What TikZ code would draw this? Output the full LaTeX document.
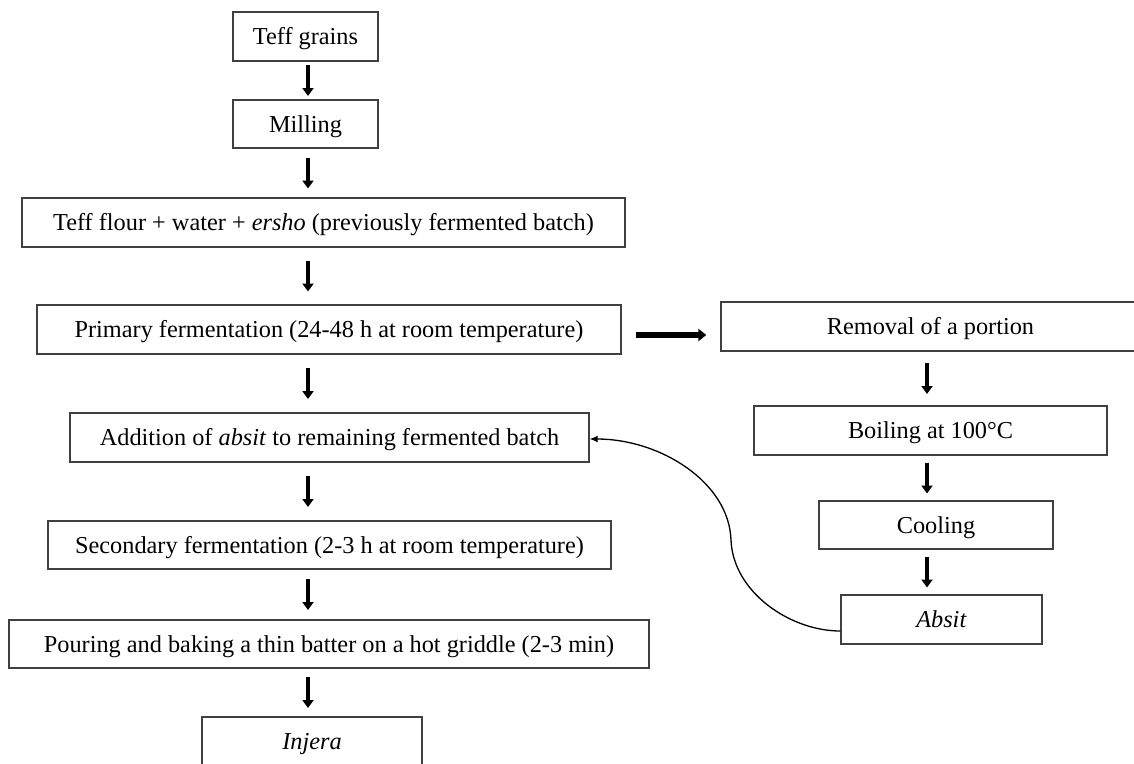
\documentclass[tikz,border=0pt]{standalone}
\usepackage{fontspec}
\setmainfont{Liberation Serif}
\usetikzlibrary{arrows.meta,calc}
\begin{document}
\begin{tikzpicture}[x=1pt,y=-1pt,
  box/.style={draw=black!75, line width=1.3pt, inner sep=0pt, minimum height=49pt,
    font=\fontsize{24.3}{29}\selectfont, text height=21.9pt, text depth=5.8pt, anchor=center},
  varrow/.style={line width=4pt, -{Triangle[width=11pt,length=8pt]}},
  harrow/.style={line width=6.5pt, -{Triangle[width=12pt,length=8pt]}},
  backarrow/.style={line width=1.3pt, -{Latex[length=8pt,width=7pt]}}]
\useasboundingbox (0,0) rectangle (1134,763);
\clip (0,0) rectangle (1134,763);

\node[box, minimum width=145pt] (grain) at (305.5,36.5) {Teff grains};
\node[box, minimum width=145pt, minimum height=48pt] (mill) at (305.5,124) {Milling};
\node[box, minimum width=603pt] (flour) at (323.5,222.5) {Teff flour + water + \textit{ersho} (previously fermented batch)};
\node[box, minimum width=584pt] (prim) at (329,329.5) {Primary fermentation (24-48 h at room temperature)};
\node[box, minimum width=419pt] (rem) at (930.5,326.5) {Removal of a portion};
\node[box, minimum width=519pt] (add) at (329.5,437.5) {Addition of \textit{absit} to remaining fermented batch};
\node[box, minimum width=353pt] (boil) at (930.5,430.5) {Boiling at 100°C};
\node[box, minimum width=234pt, minimum height=48pt] (cool) at (936,525) {Cooling};
\node[box, minimum width=201pt] (absit) at (941.5,619.5) {\textit{Absit}};
\node[box, minimum width=563pt, minimum height=48pt] (sec) at (329.5,545) {Secondary fermentation (2-3 h at room temperature)};
\node[box, minimum width=640pt, minimum height=48pt] (pour) at (329,644) {Pouring and baking a thin batter on a hot griddle (2-3 min)};
\node[box, minimum width=220pt] (inj) at (312,741.5) {\textit{Injera}};

\coordinate (lc) at (308,0);
\coordinate (rc) at (927,0);
\foreach \a/\b in {grain/mill, mill/flour, flour/prim, prim/add, add/sec, sec/pour, pour/inj}
  \draw[varrow] ($(\a.south -| lc)!.5!(\b.north -| lc)+(0,-15.5)$) -- ++(0,31);
\foreach \a/\b in {rem/boil, boil/cool, cool/absit}
  \draw[varrow] ($(\a.south -| rc)!.5!(\b.north -| rc)+(0,-15.5)$) -- ++(0,31);

\coordinate (hs) at ([xshift=14pt,yshift=-5.5pt]prim.east);
\draw[harrow, shorten >=14pt] (hs) -- (hs -| rem.west);

\coordinate (bend) at (731,540);
\draw[backarrow] ([yshift=-11.5pt]absit.west) .. controls (790,631) and (733,592) .. (bend)
  .. controls (729,482) and (660,439) .. ([yshift=-1.5pt]add.east);
\end{tikzpicture}
\end{document}
